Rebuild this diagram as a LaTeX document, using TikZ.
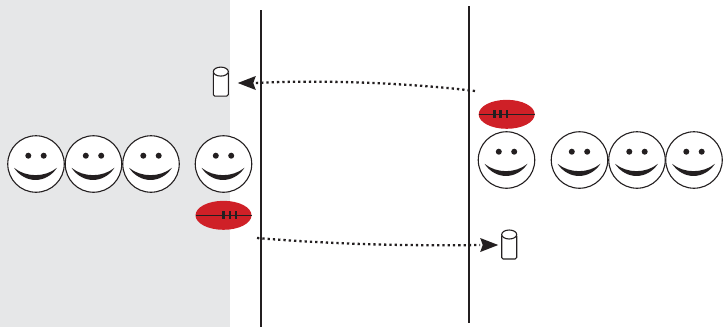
\documentclass[tikz,border=0pt]{standalone}
\usetikzlibrary{shapes.geometric,arrows.meta,calc}
\definecolor{panel}{HTML}{E6E7E8}
\definecolor{ballred}{HTML}{CF2027}
\definecolor{ink}{HTML}{231F20}
\tikzset{
  facebody/.style={circle,draw=ink,fill=white,line width=1.1pt,minimum size=56.5pt,inner sep=0pt,outer sep=0pt},
  ballbody/.style={ellipse,fill=ballred,minimum width=56pt,minimum height=29pt,inner sep=0pt,outer sep=0pt},
  ballline/.style={draw=ink,line width=1.3pt},
  balltick/.style={draw=ink,line width=2.5pt},
  canbox/.style={rectangle,minimum width=15pt,minimum height=29pt,inner sep=0pt,outer sep=0pt},
  canline/.style={draw=ink,fill=white,line width=1.1pt},
  fence/.style={draw=ink,line width=1.1pt},
  pass/.style={draw=ink,line width=2.3pt,line cap=butt,dash pattern=on 2.3pt off 3pt},
  passtip/.style={fill=ink},
}
\newcommand{\smiley}[3]{%
  \node[facebody] (#1) at (#2,#3) {};
  \fill[ink] ($(#1)+(-7.7,-8.3)$) circle (3);
  \fill[ink] ($(#1)+(7.7,-8.3)$) circle (3);
  \fill[ink] ($(#1)+(-22,3.8)$) .. controls ($(#1)+(-10,13.6)$) and ($(#1)+(9,13.6)$) .. ($(#1)+(21,3.8)$)
     .. controls ($(#1)+(10,20)$) and ($(#1)+(-11,20)$) .. cycle;
}
\newcommand{\footy}[4]{%
  \node[ballbody] (#1) at (#2,#3) {};
  \draw[ballline] (#1.west) -- (#1.east);
  \foreach \dx in {0,6.3,12.6}
    \draw[balltick] ($(#1)+(#4+\dx,-4)$) -- ($(#1)+(#4+\dx,4)$);
}
\newcommand{\canister}[3]{%
  \node[canbox] (#1) at (#2,#3) {};
  \draw[canline,rounded corners=1.5pt] ($(#1.north west)+(0,4.5)$) -- (#1.south west) -- (#1.south east) -- ($(#1.north east)+(0,4.5)$) -- cycle;
  \draw[canline] ($(#1.north)+(0,4.5)$) ellipse [x radius=7.5,y radius=4.5];
}
\begin{document}
\begin{tikzpicture}[x=1pt,y=-1pt]
\useasboundingbox (0,0) rectangle (727,327);
\fill[panel] (0,0) rectangle (229.5,327);
\coordinate (fenceAtop) at (261,10);
\coordinate (fenceAbot) at (261,327);
\coordinate (fenceBtop) at (469,6);
\coordinate (fenceBbot) at (469,323);
\draw[fence] (fenceAtop) -- (fenceAbot);
\draw[fence] (fenceBtop) -- (fenceBbot);
\smiley{la}{36}{164}
\smiley{lb}{93.5}{164}
\smiley{lc}{151}{164}
\smiley{ld}{223.5}{164}
\smiley{ra}{506.5}{160}
\smiley{rb}{579.5}{160}
\smiley{rc}{637}{160}
\smiley{rd}{694}{160}
\footy{ballL}{223.5}{215.3}{0}
\footy{ballR}{506.7}{114.3}{-12.4}
\canister{canL}{220.8}{81.6}
\canister{canR}{509.2}{244.5}
\coordinate (sendR) at (475,91);
\coordinate (sendL) at (257,238);
\coordinate (tipL) at ($(canL.east)+(9.5,1.4)$);
\coordinate (tipR) at ($(canR.west)+(-3.5,0.5)$);
\draw[pass] (sendR) .. controls (410,83) and (320,79.5) .. ($(tipL)+(18,0)$);
\fill[passtip] (tipL) -- ($(tipL)+(18,-7)$) -- ($(tipL)+(15.5,0)$) -- ($(tipL)+(18,7)$) -- cycle;
\draw[pass] (sendL) .. controls (330,244) and (400,246) .. ($(tipR)+(-18,0)$);
\fill[passtip] (tipR) -- ($(tipR)+(-18,-7)$) -- ($(tipR)+(-15.5,0)$) -- ($(tipR)+(-18,7)$) -- cycle;
\end{tikzpicture}
\end{document}
